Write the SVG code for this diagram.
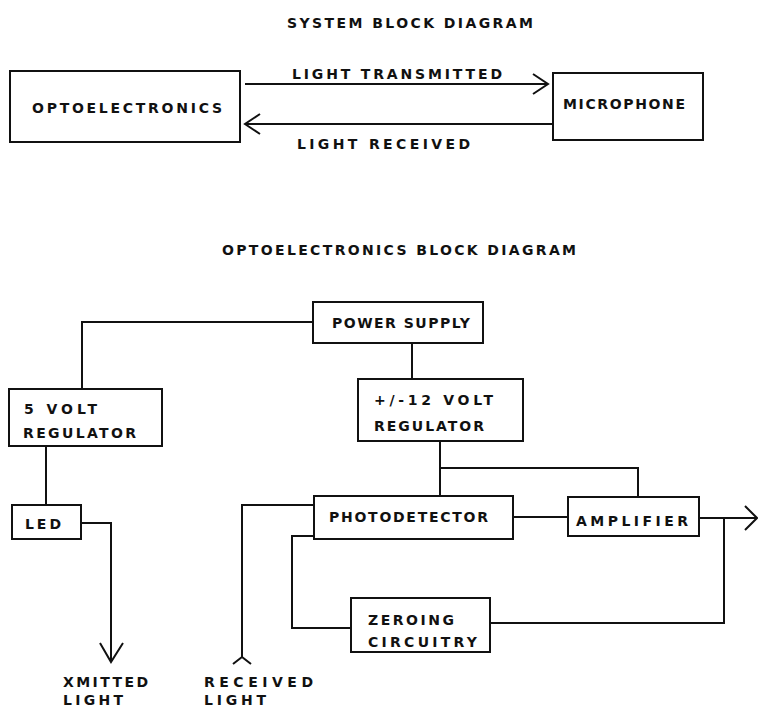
<svg xmlns="http://www.w3.org/2000/svg" width="758" height="711" viewBox="0 0 758 711">
<style>
.box{fill:#fff;stroke:#111;stroke-width:2}
.ln{fill:none;stroke:#111;stroke-width:2;stroke-linejoin:miter}
.t{font-family:"DejaVu Sans","Liberation Sans",sans-serif;font-weight:bold;font-size:14px;fill:#111}
</style>
<rect width="758" height="711" fill="#fff"/>
<g id="titles">
<text class="t" x="287" y="28" textLength="246" lengthAdjust="spacing">SYSTEM BLOCK DIAGRAM</text>
<text class="t" x="222" y="255" textLength="354" lengthAdjust="spacing">OPTOELECTRONICS BLOCK DIAGRAM</text>
</g>
<g id="connectors">
<path class="ln" d="M245 84H547M533 74L548 84L533 94"/>
<path class="ln" d="M553 124H246M260 114L245 124L260 134"/>
<path class="ln" d="M313 322H82V389"/>
<path class="ln" d="M412 343V379"/>
<path class="ln" d="M440 441V496M440 468H638V497"/>
<path class="ln" d="M513 517H568"/>
<path class="ln" d="M699 518H756M745 506L757 518L745 530"/>
<path class="ln" d="M724 518V623H490"/>
<path class="ln" d="M314 536H292V628H351"/>
<path class="ln" d="M314 505H242V657M233 664L242 657L251 664"/>
<path class="ln" d="M46 446V505"/>
<path class="ln" d="M81 523H111V661M100 643L111 662L123 643"/>
<text class="t" x="63" y="687" textLength="85" lengthAdjust="spacing">XMITTED</text>
<text class="t" x="63" y="705" textLength="60" lengthAdjust="spacing">LIGHT</text>
<text class="t" x="204" y="687" textLength="109" lengthAdjust="spacing">RECEIVED</text>
<text class="t" x="204" y="705" textLength="62" lengthAdjust="spacing">LIGHT</text>
<text class="t" x="292" y="79" textLength="210" lengthAdjust="spacing">LIGHT TRANSMITTED</text>
<text class="t" x="297" y="149" textLength="173" lengthAdjust="spacing">LIGHT RECEIVED</text>
</g>
<g id="optoelectronics">
<rect class="box" x="10" y="71" width="230" height="71"/>
<text class="t" x="32" y="113" textLength="190" lengthAdjust="spacing">OPTOELECTRONICS</text>
</g>
<g id="microphone">
<rect class="box" x="553" y="73" width="150" height="67"/>
<text class="t" x="563" y="109" textLength="122" lengthAdjust="spacing">MICROPHONE</text>
</g>
<g id="power-supply">
<rect class="box" x="313" y="302" width="170" height="41"/>
<text class="t" x="332" y="328" textLength="138" lengthAdjust="spacing">POWER SUPPLY</text>
</g>
<g id="reg5">
<rect class="box" x="9" y="389" width="153" height="57"/>
<text class="t" x="24" y="414" textLength="73" lengthAdjust="spacing">5 VOLT</text>
<text class="t" x="23" y="438" textLength="113" lengthAdjust="spacing">REGULATOR</text>
</g>
<g id="reg12">
<rect class="box" x="358" y="379" width="165" height="62"/>
<text class="t" x="374" y="405" textLength="119" lengthAdjust="spacing">+/-12 VOLT</text>
<text class="t" x="374" y="431" textLength="110" lengthAdjust="spacing">REGULATOR</text>
</g>
<g id="led">
<rect class="box" x="12" y="505" width="69" height="34"/>
<text class="t" x="25" y="529" textLength="36" lengthAdjust="spacing">LED</text>
</g>
<g id="photodetector">
<rect class="box" x="314" y="496" width="199" height="43"/>
<text class="t" x="329" y="522" textLength="159" lengthAdjust="spacing">PHOTODETECTOR</text>
</g>
<g id="amplifier">
<rect class="box" x="568" y="497" width="131" height="39"/>
<text class="t" x="576" y="526" textLength="112" lengthAdjust="spacing">AMPLIFIER</text>
</g>
<g id="zeroing">
<rect class="box" x="351" y="598" width="139" height="54"/>
<text class="t" x="368" y="625" textLength="86" lengthAdjust="spacing">ZEROING</text>
<text class="t" x="368" y="647" textLength="109" lengthAdjust="spacing">CIRCUITRY</text>
</g>
</svg>
